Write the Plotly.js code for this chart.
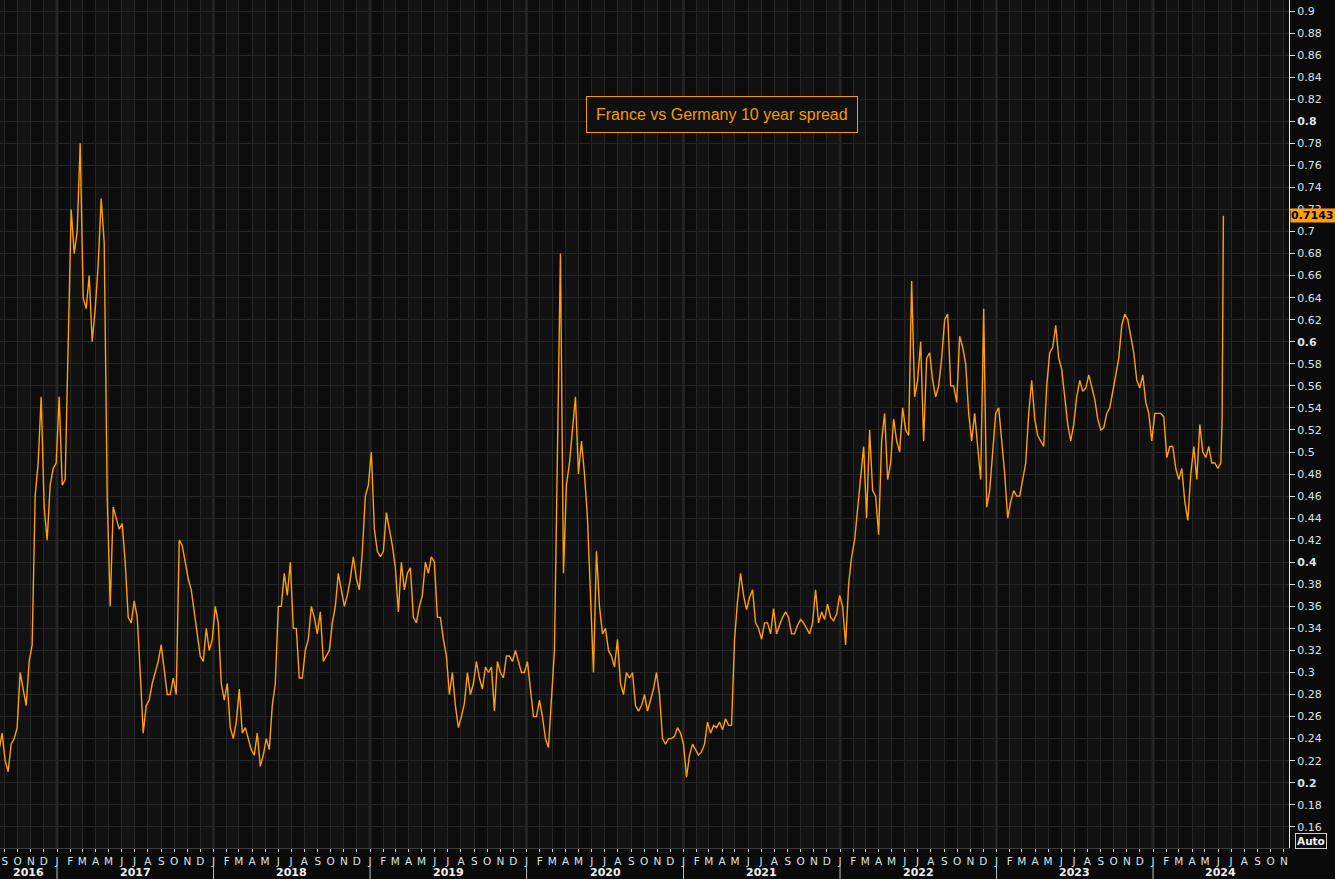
<!DOCTYPE html>
<html><head><meta charset="utf-8">
<script src="https://cdn.plot.ly/plotly-3.0.1.min.js"></script>
<style>html,body{margin:0;padding:0;background:#0a0a0a;}#chart{width:1335px;height:879px;}</style>
</head><body><div id="chart"></div>
<script>
// ---- data ----
const seriesTitle = 'France vs Germany 10 year spread';
const weekStart = '2016-08-19';   // first weekly observation, one point per week after it
const weeklySpread = [
0.23,0.245,0.22,0.21,0.235,0.24,0.25,0.30,0.285,0.27,
0.31,0.325,0.46,0.49,0.55,0.45,0.42,0.47,0.485,0.49,
0.55,0.47,0.475,0.59,0.72,0.68,0.70,0.78,0.64,0.63,
0.66,0.60,0.63,0.67,0.73,0.69,0.46,0.36,0.45,0.44,
0.43,0.435,0.40,0.35,0.345,0.365,0.35,0.30,0.245,0.27,
0.275,0.29,0.30,0.31,0.325,0.30,0.28,0.28,0.295,0.28,
0.42,0.415,0.40,0.385,0.375,0.355,0.33,0.315,0.31,0.34,
0.32,0.33,0.36,0.345,0.29,0.275,0.29,0.25,0.24,0.255,
0.285,0.245,0.25,0.24,0.23,0.225,0.245,0.215,0.225,0.24,
0.23,0.27,0.29,0.36,0.36,0.39,0.37,0.40,0.34,0.34,
0.295,0.295,0.32,0.33,0.36,0.35,0.335,0.355,0.31,0.315,
0.32,0.345,0.36,0.39,0.375,0.36,0.37,0.385,0.405,0.385,
0.375,0.41,0.46,0.47,0.50,0.43,0.41,0.405,0.41,0.445,
0.43,0.415,0.395,0.355,0.40,0.375,0.39,0.395,0.35,0.345,
0.36,0.37,0.40,0.39,0.405,0.40,0.35,0.35,0.33,0.315,
0.28,0.30,0.27,0.25,0.26,0.272,0.30,0.28,0.29,0.31,
0.295,0.285,0.305,0.30,0.305,0.265,0.31,0.30,0.295,0.315,
0.315,0.31,0.32,0.31,0.30,0.30,0.31,0.285,0.26,0.26,
0.275,0.26,0.24,0.232,0.275,0.32,0.50,0.68,0.39,0.47,
0.49,0.52,0.55,0.48,0.51,0.48,0.44,0.37,0.30,0.41,
0.36,0.335,0.34,0.32,0.315,0.305,0.33,0.29,0.28,0.30,
0.295,0.30,0.27,0.265,0.27,0.28,0.265,0.275,0.285,0.30,
0.28,0.24,0.235,0.24,0.24,0.242,0.25,0.245,0.235,0.205,
0.225,0.235,0.23,0.225,0.228,0.235,0.255,0.245,0.252,0.25,
0.255,0.248,0.258,0.252,0.252,0.33,0.365,0.39,0.37,0.357,
0.368,0.375,0.345,0.34,0.33,0.345,0.345,0.335,0.358,0.335,
0.343,0.35,0.355,0.35,0.335,0.335,0.343,0.348,0.345,0.34,
0.335,0.345,0.375,0.345,0.355,0.348,0.362,0.35,0.347,0.353,
0.37,0.36,0.325,0.38,0.405,0.42,0.45,0.48,0.505,0.44,
0.52,0.465,0.46,0.425,0.51,0.535,0.475,0.49,0.53,0.51,
0.50,0.54,0.52,0.515,0.655,0.55,0.565,0.60,0.51,0.585,
0.59,0.565,0.55,0.56,0.585,0.62,0.625,0.56,0.56,0.545,
0.605,0.595,0.58,0.535,0.51,0.535,0.505,0.475,0.63,0.45,
0.465,0.50,0.535,0.54,0.51,0.48,0.44,0.455,0.465,0.46,
0.46,0.475,0.49,0.535,0.565,0.53,0.515,0.51,0.505,0.56,
0.59,0.595,0.615,0.585,0.575,0.55,0.525,0.51,0.525,0.55,
0.565,0.555,0.558,0.57,0.56,0.548,0.53,0.52,0.522,0.535,
0.54,0.555,0.57,0.585,0.615,0.625,0.62,0.605,0.59,0.565,
0.558,0.57,0.545,0.535,0.51,0.535,0.535,0.535,0.532,0.495,
0.505,0.505,0.485,0.475,0.485,0.455,0.438,0.48,0.505,0.475,
0.525,0.50,0.495,0.505,0.49,0.49,0.485,0.49
];
const finalDates  = ['2024-06-10','2024-06-11','2024-06-12','2024-06-13'];
const finalSpread = [0.53, 0.62, 0.668, 0.7143];
const lastValueText = '0.7143';
const monthLetters = ['J','F','M','A','M','J','J','A','S','O','N','D'];
const yearLabels = ['2016','2017','2018','2019','2020','2021','2022','2023','2024'];
const yTickValues = [0.16,0.18,0.2,0.22,0.24,0.26,0.28,0.3,0.32,0.34,0.36,0.38,0.4,0.42,0.44,0.46,0.48,0.5,0.52,0.54,0.56,0.58,0.6,0.62,0.64,0.66,0.68,0.7,0.72,0.74,0.76,0.78,0.8,0.82,0.84,0.86,0.88,0.9];
const yTickLabels = ['0.16','0.18','<b>0.2</b>','0.22','0.24','0.26','0.28','0.3','0.32','0.34','0.36','0.38','<b>0.4</b>','0.42','0.44','0.46','0.48','0.5','0.52','0.54','0.56','0.58','<b>0.6</b>','0.62','0.64','0.66','0.68','0.7','0.72','0.74','0.76','0.78','<b>0.8</b>','0.82','0.84','0.86','0.88','0.9'];
const xRange = ['2016-08-21','2024-11-13'];
const yRange = [0.1408, 0.91];

// ---- build ----
const DAY = 86400000;
const t0 = Date.parse(weekStart + 'T00:00:00Z');
const dates = weeklySpread.map((_, i) => new Date(t0 + i * 7 * DAY).toISOString().slice(0, 10)).concat(finalDates);
const values = weeklySpread.concat(finalSpread);

const ORANGE = '#ff9f0a';
const tickVals = [], tickText = [], shapes = [], annotations = [];
const firstYear = 2016, lastYear = 2024;
for (let y = firstYear; y <= lastYear; y++) {
  for (let m = 0; m < 12; m++) {
    const s = new Date(Date.UTC(y, m, 1)).toISOString().slice(0, 10);
    if (s < xRange[0] || s > xRange[1]) continue;
    tickVals.push(s); tickText.push(monthLetters[m]);
  }
}
// alternating month shading
for (let y = firstYear; y <= lastYear; y++) {
  for (let m = 0; m < 12; m++) {
    if (m % 2 === 0) continue;
    const a = new Date(Date.UTC(y, m, 1)).toISOString().slice(0, 10);
    const b = new Date(Date.UTC(y, m + 1, 1)).toISOString().slice(0, 10);
    shapes.push({type:'rect', layer:'below', xref:'x', yref:'paper', x0:a, x1:b, y0:0, y1:1,
      fillcolor:'#121212', line:{width:0}});
  }
}
// year boundaries
for (let y = firstYear + 1; y <= lastYear; y++) {
  const s = y + '-01-01';
  shapes.push({type:'line', layer:'below', xref:'x', yref:'paper', x0:s, x1:s, y0:0, y1:1,
    line:{color:'#222222', width:3}});
  shapes.push({type:'line', xref:'x', yref:'paper', x0:s, x1:s, y0:-0.02, y1:-0.037,
    line:{color:'#bdbdbd', width:1}});
}
// year labels centred on visible part of each year
yearLabels.forEach((lab) => {
  const y = +lab;
  let a = Date.UTC(y, 0, 1), b = Date.UTC(y + 1, 0, 1);
  a = Math.max(a, Date.parse(xRange[0] + 'T00:00:00Z'));
  b = Math.min(b, Date.parse(xRange[1] + 'T00:00:00Z'));
  const mid = new Date((a + b) / 2).toISOString().slice(0, 10);
  annotations.push({xref:'x', yref:'paper', x:mid, y:-0.0285, yanchor:'middle', showarrow:false,
    text:'<b>' + lab + '</b>', font:{family:'DejaVu Sans, Verdana, sans-serif', size:11, color:'#f0f0f0'}});
});
// title box
annotations.push({xref:'paper', yref:'paper', x:722/1289, y:(848-114.5)/848, xanchor:'center', yanchor:'middle',
  showarrow:false, text:seriesTitle, font:{family:'Liberation Sans, Arial, sans-serif', size:16, color:'#f59b00'},
  bordercolor:'#f59b00', borderwidth:1, borderpad:9, bgcolor:'#101010'});
// last value tag
annotations.push({xref:'paper', yref:'y', x:1, y:finalSpread[finalSpread.length-1], xanchor:'left', yanchor:'middle',
  xshift:1, showarrow:false, text:'<b>' + lastValueText + '</b>', width:44, height:13, align:'left',
  font:{family:'DejaVu Sans, Verdana, sans-serif', size:11, color:'#000'}, bgcolor:ORANGE, borderpad:0});
// Auto button
annotations.push({xref:'paper', yref:'paper', x:1311/1289, y:(848-840.5)/848, xanchor:'center', yanchor:'middle',
  showarrow:false, text:'<b>Auto</b>', font:{family:'DejaVu Sans, Verdana, sans-serif', size:10.5, color:'#f2f2f2'},
  bordercolor:'#cfcfcf', borderwidth:1, borderpad:1, bgcolor:'#0a0a0a'});

const trace = {type:'scatter', mode:'lines', x:dates, y:values, name:seriesTitle,
  line:{color:ORANGE, width:1.4}, hoverinfo:'skip'};

const layout = {
  width:1335, height:879,
  margin:{l:0, r:46, t:0, b:31, pad:0},
  paper_bgcolor:'#0a0a0a', plot_bgcolor:'#0c0c0c',
  showlegend:false,
  font:{family:'DejaVu Sans, Verdana, sans-serif', size:11, color:'#dbe2ea'},
  xaxis:{type:'date', range:xRange, tickmode:'array', tickvals:tickVals, ticktext:tickText,
    ticks:'outside', ticklen:3, tickcolor:'#cfcfcf', tickfont:{size:10.5, color:'#dbe2ea'},
    showgrid:true, gridcolor:'#262626', gridwidth:1, showline:true, linecolor:'#3a3a3a',
    zeroline:false, fixedrange:true},
  yaxis:{side:'right', range:yRange, tickmode:'array', tickvals:yTickValues, ticktext:yTickLabels,
    ticks:'outside', ticklen:5, tickcolor:'#e0e0e0', showline:true, linecolor:'#e6e6e6',
    showgrid:true, gridcolor:'#262626', gridwidth:1, zeroline:false, tickfont:{size:11, color:'#dbe2ea'},
    fixedrange:true},
  shapes:shapes, annotations:annotations
};
Plotly.newPlot('chart', [trace], layout, {staticPlot:true, displayModeBar:false});
</script>
</body></html>
